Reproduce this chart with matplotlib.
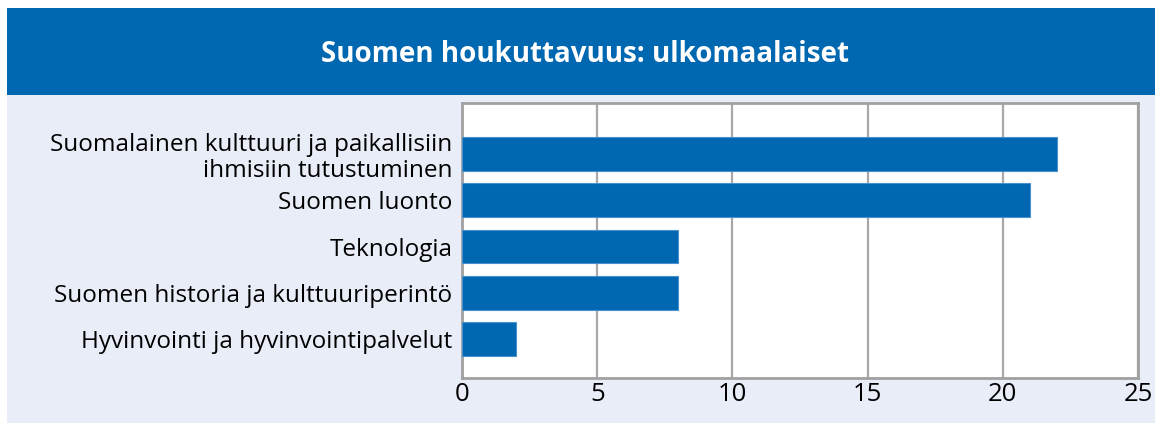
import matplotlib.pyplot as plt
from matplotlib.patches import Rectangle

categories = [
    "Suomalainen kulttuuri ja paikallisiin\nihmisiin tutustuminen",
    "Suomen luonto",
    "Teknologia",
    "Suomen historia ja kulttuuriperintö",
    "Hyvinvointi ja hyvinvointipalvelut",
]
values = [22, 21, 8, 8, 2]
xticks = [0, 5, 10, 15, 20, 25]

blue = "#0067B1"
bg = "#E9EDF8"
W, H = 1155, 423

plt.rcParams['font.family'] = ['Open Sans', 'DejaVu Sans']

fig = plt.figure(figsize=(W / 100, H / 100), dpi=100)
fig.patch.set_facecolor("white")

# background panels (drawn under the axes)
fig.patches.append(Rectangle((7 / W, 0), 1 - 7 / W, 1 - 95 / H, transform=fig.transFigure,
                             facecolor=bg, edgecolor="none", zorder=-2))
fig.patches.append(Rectangle((7 / W, 1 - 95 / H), 1 - 7 / W, 87 / H, transform=fig.transFigure,
                             facecolor=blue, edgecolor="none", zorder=-2))
fig.text(585 / W, 1 - 55 / H, "Suomen houkuttavuus: ulkomaalaiset", color="white",
         fontsize=20, fontweight="bold", ha="center", va="center")

ax = fig.add_axes([462 / W, 1 - 378 / H, (1138 - 462) / W, (378 - 103) / H])
ax.set_facecolor("white")
ypos = list(range(len(categories)))
ax.barh(ypos, values, height=0.73, color=blue, edgecolor="#4A90CF", linewidth=0.8, zorder=3)
ax.set_xlim(0, 25)
ax.set_ylim(4.84, -1.1)
ax.set_xticks(xticks)
ax.set_xticklabels([str(t) for t in xticks], fontsize=18.5)
ax.set_yticks(ypos)
ax.set_yticklabels(categories, fontsize=17.5, linespacing=1.1)
ax.tick_params(axis="both", length=0, pad=7)
ax.tick_params(axis="x", pad=3)
ax.grid(axis="x", color="#A8A8A8", linewidth=1.6, zorder=1)
for s in ax.spines.values():
    s.set_color("#A0A0A0")
    s.set_linewidth(2)

fig.savefig("out.png", dpi=100)
